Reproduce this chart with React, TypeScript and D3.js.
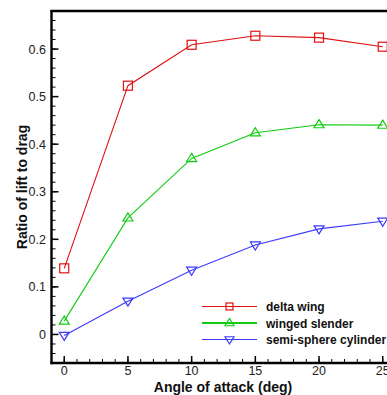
import React from "react";
import * as d3 from "d3";

const angles = [0, 5, 10, 15, 20, 25];
const deltaWing = [0.139, 0.523, 0.609, 0.628, 0.624, 0.605];
const wingedSlender = [0.028, 0.245, 0.37, 0.424, 0.441, 0.44];
const semiSphere = [-0.002, 0.07, 0.135, 0.188, 0.222, 0.238];
const seriesNames = ["delta wing", "winged slender", "semi-sphere cylinder"];
const xTicks = [0, 5, 10, 15, 20, 25];
const yTicks = [0, 0.1, 0.2, 0.3, 0.4, 0.5, 0.6];

const W = 387, H = 395;
const left = 51.5, top = 11, bottom = 363;

export default function App() {
  const x = d3.scaleLinear().domain([-1, 26]).range([left, left + 27 * 12.74]);
  const y = d3.scaleLinear().domain([-0.06, 0.68]).range([bottom, top]);
  const colors = ["#e01010", "#10cc10", "#3a3aff"];
  const data = [deltaWing, wingedSlender, semiSphere];
  const line = (vals: number[]) =>
    d3.line<number>().x((_, i) => x(angles[i])).y((d) => y(d))(vals) || "";

  const marker = (k: number, cx: number, cy: number, s: number, key: string) => {
    const c = colors[k];
    if (k === 0)
      return <rect key={key} x={cx - s / 2} y={cy - s / 2} width={s} height={s} fill="none" stroke={c} strokeWidth={1.2} />;
    if (k === 1) {
      const h = s * 0.9;
      return <path key={key} d={`M${cx},${cy - h * 0.62}L${cx + s / 2 + 0.5},${cy + h * 0.38}L${cx - s / 2 - 0.5},${cy + h * 0.38}Z`} fill="none" stroke={c} strokeWidth={1.2} />;
    }
    const h = s * 0.9;
    return <path key={key} d={`M${cx},${cy + h * 0.62}L${cx + s / 2 + 0.5},${cy - h * 0.38}L${cx - s / 2 - 0.5},${cy - h * 0.38}Z`} fill="none" stroke={c} strokeWidth={1.2} />;
  };

  const minorX = d3.range(-1, 27, 1);
  const minorY = d3.range(-0.06, 0.681, 0.02);
  const font = "Liberation Sans, Arial, sans-serif";
  const rightEdge = x(26);

  return (
    <svg width={W} height={H} style={{ position: "absolute", left: 0, top: 0, background: "#fff" }}>
      {minorX.map((v) => (
        <line key={"mx" + v} x1={x(v)} x2={x(v)} y1={bottom} y2={bottom - 4} stroke="#000" strokeWidth={1} />
      ))}
      {minorY.map((v, i) => (
        <line key={"my" + i} x1={left} x2={left + 4} y1={y(v)} y2={y(v)} stroke="#000" strokeWidth={1} />
      ))}
      {xTicks.map((v) => (
        <g key={"xt" + v}>
          <line x1={x(v)} x2={x(v)} y1={bottom} y2={bottom - 7} stroke="#000" strokeWidth={1.5} />
          <text x={x(v)} y={375} textAnchor="middle" fontFamily={font} fontSize={12.5} fill="#222">{v}</text>
        </g>
      ))}
      {yTicks.map((v) => (
        <g key={"yt" + v}>
          <line x1={left} x2={left + 7} y1={y(v)} y2={y(v)} stroke="#000" strokeWidth={1.5} />
          <text x={46} y={y(v) + 4.5} textAnchor="end" fontFamily={font} fontSize={12.5} fill="#222">{v === 0 ? "0" : v.toFixed(1)}</text>
        </g>
      ))}
      <line x1={left} x2={left} y1={top - 1} y2={bottom + 1.2} stroke="#000" strokeWidth={2.4} />
      <line x1={left - 1} x2={rightEdge} y1={bottom} y2={bottom} stroke="#000" strokeWidth={2.4} />
      <line x1={left - 1} x2={rightEdge} y1={top} y2={top} stroke="#000" strokeWidth={2.4} />

      {data.map((vals, k) => (
        <g key={"s" + k}>
          <path d={line(vals)} fill="none" stroke={colors[k]} strokeWidth={1.1} />
          {vals.map((v, i) => marker(k, x(angles[i]), y(v), 9, `m${k}-${i}`))}
        </g>
      ))}

      {seriesNames.map((n, k) => {
        const ly = 306.5 + k * 16.5;
        return (
          <g key={"lg" + k}>
            <line x1={202} x2={257} y1={ly} y2={ly} stroke={colors[k]} strokeWidth={k === 1 ? 2 : 1.1} />
            {marker(k, 229.5, ly, k === 0 ? 7 : 8, "lm" + k)}
            <text x={266} y={ly + 4.5} fontFamily={font} fontSize={12} fontWeight="bold" fill="#111">{n}</text>
          </g>
        );
      })}

      <text x={223} y={392} textAnchor="middle" fontFamily={font} fontSize={14} fontWeight="bold" fill="#111">Angle of attack (deg)</text>
      <text transform={`translate(27,187) rotate(-90)`} textAnchor="middle" fontFamily={font} fontSize={14} fontWeight="bold" fill="#111">Ratio of lift to drag</text>
    </svg>
  );
}
